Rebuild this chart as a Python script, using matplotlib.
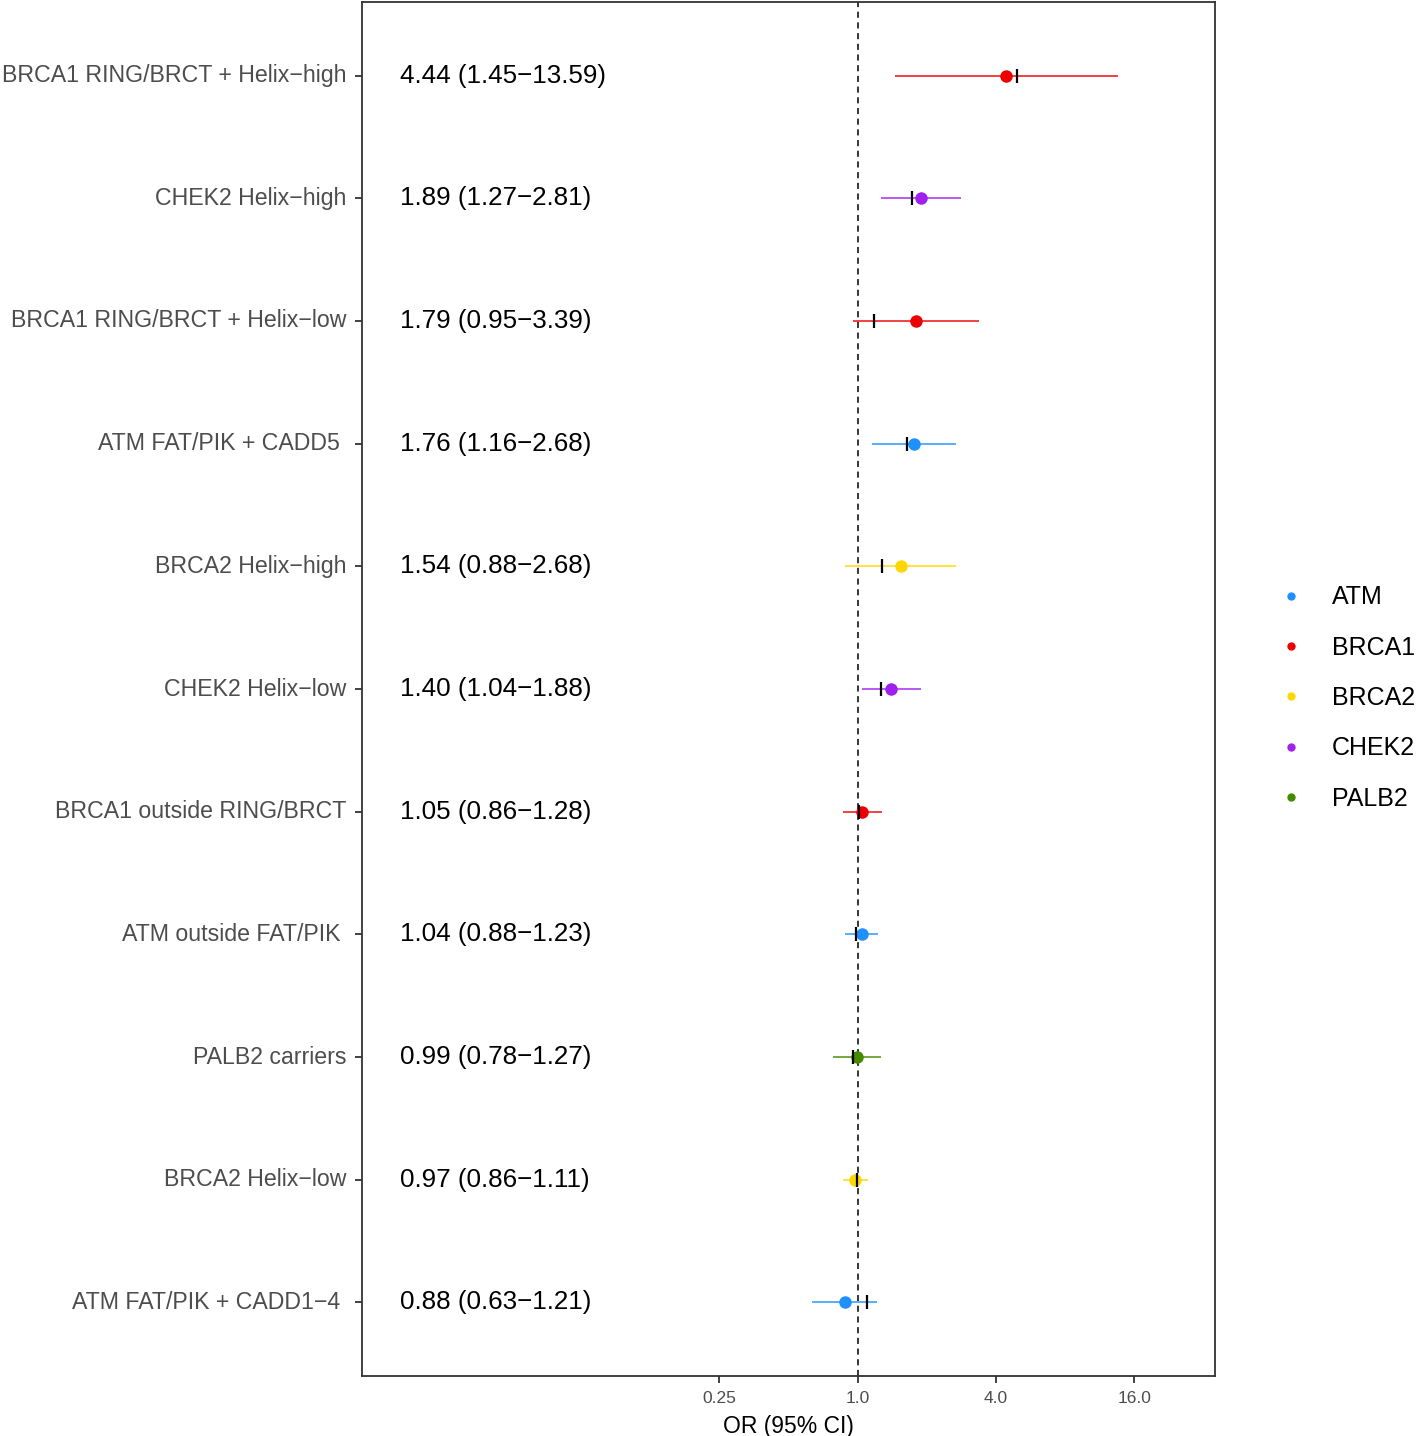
import numpy as np
import matplotlib
matplotlib.use("Agg")
import matplotlib.pyplot as plt
from matplotlib.lines import Line2D

plt.rcParams['font.family'] = ['Liberation Sans', 'DejaVu Sans']

# rows, top to bottom
labels = ["BRCA1 RING/BRCT + Helix\u2212high", "CHEK2 Helix\u2212high",
          "BRCA1 RING/BRCT + Helix\u2212low", "ATM FAT/PIK + CADD5 ",
          "BRCA2 Helix\u2212high", "CHEK2 Helix\u2212low",
          "BRCA1 outside RING/BRCT", "ATM outside FAT/PIK ",
          "PALB2 carriers", "BRCA2 Helix\u2212low", "ATM FAT/PIK + CADD1\u22124 "]
genes = ["BRCA1", "CHEK2", "BRCA1", "ATM", "BRCA2", "CHEK2",
         "BRCA1", "ATM", "PALB2", "BRCA2", "ATM"]
or_est = [4.44, 1.89, 1.79, 1.76, 1.54, 1.40, 1.05, 1.04, 0.99, 0.97, 0.88]
ci_lo = [1.45, 1.27, 0.95, 1.16, 0.88, 1.04, 0.86, 0.88, 0.78, 0.86, 0.63]
ci_hi = [13.59, 2.81, 3.39, 2.68, 2.68, 1.88, 1.28, 1.23, 1.27, 1.11, 1.21]
# second estimate (black bar)
or_alt = [4.93, 1.73, 1.18, 1.64, 1.28, 1.26, 1.01, 0.985, 0.95, 0.99, 1.10]

gene_names = ["ATM", "BRCA1", "BRCA2", "CHEK2", "PALB2"]
gene_cols = {"ATM": "#1E90FF", "BRCA1": "#EE0000", "BRCA2": "#FFD700",
             "CHEK2": "#A020F0", "PALB2": "#458B00"}

xticks = [0.25, 1.0, 4.0, 16.0]
xtick_labels = ["0.25", "1.0", "4.0", "16.0"]

fig = plt.figure(figsize=(14.24, 14.36), dpi=100)
ax = fig.add_axes([362/1424, 1-1376/1436, (1215-362)/1424, (1376-2)/1436])

n = len(labels)
ypos = np.arange(n, 0, -1)

ax.axvline(1.0, color='black', linestyle=(0, (4, 3)), linewidth=1.1, zorder=1)

for i in range(n):
    c = gene_cols[genes[i]]
    ax.plot([ci_lo[i], ci_hi[i]], [ypos[i], ypos[i]], color=c, alpha=0.8,
            linewidth=1.3, zorder=2, solid_capstyle='butt')
    ax.plot(or_est[i], ypos[i], 'o', color=c, markersize=9, markeredgewidth=0, zorder=3)
    ax.plot(or_alt[i], ypos[i], '|', color='black', markersize=10,
            markeredgewidth=1.6, zorder=4)
    txt = "%.2f (%.2f\u2212%.2f)" % (or_est[i], ci_lo[i], ci_hi[i])
    ax.text(0.0102, ypos[i], txt, ha='left', va='center', fontsize=18.7, color='black')

ax.set_xscale('log', base=2)
ax.set_xlim(2**-7.17, 2**5.17)
ax.set_ylim(0.4, 11.6)
ax.set_xticks(xticks)
ax.set_xticklabels(xtick_labels)
ax.xaxis.set_minor_locator(matplotlib.ticker.NullLocator())
ax.set_yticks(ypos)
ax.set_yticklabels(labels, va='center')

ax.tick_params(axis='x', labelsize=12.5, colors='#333333', labelcolor='#4D4D4D',
               length=5, width=1.3, pad=6)
ax.tick_params(axis='y', labelsize=16.7, colors='#333333', labelcolor='#4D4D4D',
               length=5, width=1.3, pad=6)
for s in ax.spines.values():
    s.set_color('#333333')
    s.set_linewidth(1.3)

ax.set_xlabel("OR (95% CI)", fontsize=16.5, labelpad=6)

handles = [Line2D([], [], marker='o', linestyle='', color=gene_cols[g],
                  markersize=6, markeredgewidth=0) for g in gene_names]
fig.legend(handles, gene_names, loc='center left', bbox_to_anchor=(1278/1424, 1-698/1436),
           frameon=False, fontsize=18, labelspacing=1.05, handletextpad=1.16,
           handlelength=1.0, borderaxespad=0, borderpad=0)

fig.savefig("out.png", dpi=100)
